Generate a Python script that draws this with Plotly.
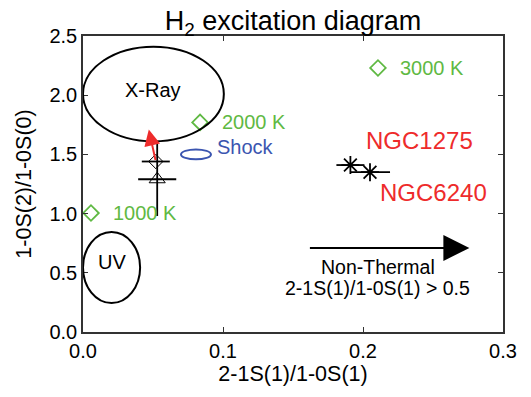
import plotly.graph_objects as go

# Thermal model ratios (green diamonds)
temp_labels = ["1000 K", "2000 K", "3000 K"]
temp_x = [0.0057, 0.0836, 0.2107]
temp_y = [1.005, 1.77, 2.23]

# Observed galaxies (asterisks with x errors)
gal_names = ["NGC1275", "NGC6240"]
gal_x = [0.191, 0.205]
gal_y = [1.41, 1.35]
gal_xerr = [0.010, 0.0143]

# Black points with error bars
pt_x = [0.052, 0.053]
pt_y = [1.44, 1.29]
pt_xerr = [0.010, 0.0136]
pt_yerr = [0.0, 0.31]

# Excitation regions: name, center x, center y, half-width, half-height
region_names = ["X-Ray", "UV", "Shock"]
region_cx = [0.0503, 0.0204, 0.0807]
region_cy = [2.01, 0.545, 1.50]
region_rx = [0.0503, 0.0204, 0.0107]
region_ry = [0.40, 0.30, 0.042]

GREEN = "#5fb943"
BLUE = "#3b55b0"
RED = "#ee2b2b"
FONT = "Liberation Sans, Arial, sans-serif"

fig = go.Figure()

# region outlines
region_colors = ["black", "black", BLUE]
for cx, cy, rx, ry, col in zip(region_cx, region_cy, region_rx, region_ry, region_colors):
    fig.add_shape(type="circle", xref="x", yref="y",
                  x0=cx - rx, x1=cx + rx, y0=cy - ry, y1=cy + ry,
                  line=dict(color=col, width=2))

fig.add_annotation(x=region_cx[0], y=2.044, text=region_names[0], showarrow=False,
                   font=dict(size=20, color="black"))
fig.add_annotation(x=region_cx[1], y=0.59, text=region_names[1], showarrow=False,
                   font=dict(size=20, color="black"))
fig.add_annotation(x=0.0945, y=1.56, text=region_names[2], showarrow=False,
                   xanchor="left", font=dict(size=20, color=BLUE))

# thermal models
fig.add_trace(go.Scatter(x=temp_x, y=temp_y, mode="markers",
                         marker=dict(symbol="diamond-open", size=12, color=GREEN,
                                     line=dict(width=1.8, color=GREEN)),
                         showlegend=False))
for lx, ly, lab in zip(temp_x, temp_y, temp_labels):
    fig.add_annotation(x=lx + 0.0145, y=ly, text=lab, showarrow=False, xanchor="left",
                       font=dict(size=20, color=GREEN))

# black points with errors
fig.add_trace(go.Scatter(x=[pt_x[1]], y=[pt_y[1]], mode="markers",
                         marker=dict(symbol="triangle-up-open", size=14, color="black",
                                     line=dict(width=1, color="black")),
                         error_x=dict(type="data", array=[pt_xerr[1]], width=0, thickness=1.8, color="black"),
                         error_y=dict(type="data", array=[pt_yerr[1]], width=0, thickness=1.8, color="black"),
                         showlegend=False))
fig.add_trace(go.Scatter(x=[pt_x[0]], y=[pt_y[0]], mode="markers",
                         marker=dict(symbol="diamond-open", size=11, color="black",
                                     line=dict(width=1, color="black")),
                         error_x=dict(type="data", array=[pt_xerr[0]], width=0, thickness=1.8, color="black"),
                         showlegend=False))

# red arrow from the diamond point
fig.add_annotation(x=0.047, y=1.71, ax=pt_x[0], ay=pt_y[0], xref="x", yref="y",
                   axref="x", ayref="y", text="", showarrow=True,
                   arrowhead=2, arrowsize=1.6, arrowwidth=2, arrowcolor=RED)

# galaxies
fig.add_trace(go.Scatter(x=gal_x, y=gal_y, mode="markers",
                         marker=dict(symbol="asterisk-open", size=15, color="black",
                                     line=dict(width=1.8, color="black")),
                         error_x=dict(type="data", array=gal_xerr, width=0, thickness=1.8, color="black"),
                         showlegend=False))
fig.add_annotation(x=0.2005, y=1.62, text=gal_names[0], showarrow=False,
                   xanchor="left", font=dict(size=24, color=RED))
fig.add_annotation(x=0.2105, y=1.18, text=gal_names[1], showarrow=False,
                   xanchor="left", font=dict(size=24, color=RED))

# non-thermal arrow
fig.add_annotation(x=0.276, y=0.71, ax=0.161, ay=0.71, xref="x", yref="y",
                   axref="x", ayref="y", text="", showarrow=True,
                   arrowhead=2, arrowsize=2.6, arrowwidth=2, arrowcolor="black")
fig.add_annotation(x=0.2107, y=0.549, text="Non-Thermal", showarrow=False,
                   font=dict(size=19.5, color="black"))
fig.add_annotation(x=0.2107, y=0.372, text="2-1S(1)/1-0S(1) > 0.5", showarrow=False,
                   font=dict(size=19.5, color="black"))

axis_common = dict(showgrid=False, zeroline=False, showline=True, linecolor="#333333",
                   linewidth=1.5, mirror="ticks", ticks="inside", ticklen=5,
                   tickcolor="#333333", tickwidth=1,
                   tickfont=dict(size=20, color="black"))

fig.update_xaxes(range=[0, 0.3], tickvals=[0, 0.1, 0.2, 0.3], ticktext=["0.0", "0.1", "0.2", "0.3"],
                 title=dict(text="2-1S(1)/1-0S(1)", font=dict(size=21.5, color="black"), standoff=5),
                 **axis_common)
fig.update_yaxes(range=[0, 2.5], tickvals=[0, 0.5, 1.0, 1.5, 2.0, 2.5],
                 ticktext=["0.0", "0.5", "1.0", "1.5", "2.0", "2.5"],
                 title=dict(text="1-0S(2)/1-0S(0)", font=dict(size=21.5, color="black"), standoff=12),
                 **axis_common)

fig.update_layout(
    width=531, height=397,
    margin=dict(l=83, r=28, t=36, b=65),
    paper_bgcolor="white", plot_bgcolor="white",
    font=dict(family=FONT, color="black"),
    title=dict(text="H<sub>2</sub> excitation diagram", x=0.5, xref="paper",
               y=0.947, yref="container", yanchor="middle",
               font=dict(size=27, color="black")),
    showlegend=False,
)

fig.write_html("out.html")
